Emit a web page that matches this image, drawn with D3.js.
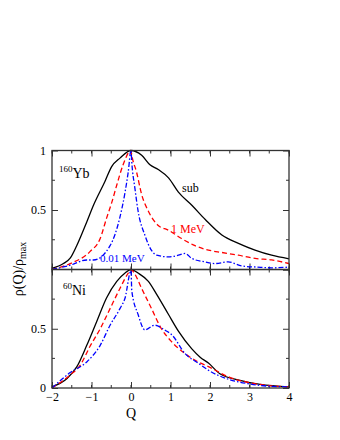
<!DOCTYPE html>
<html>
<head>
<meta charset="utf-8">
<script src="https://cdn.jsdelivr.net/npm/d3@7"></script>
<style>
  body { margin: 0; background: #fff; }
  svg text { font-family: "Liberation Serif", "DejaVu Serif", serif; }
</style>
</head>
<body>
<script>
// Q grid and curves
var ybSubQ = [-2, -1.71, -1.54, -1.375, -1.12, -0.95, -0.66, -0.49, -0.28, 0, 0.27, 0.48, 0.69, 0.95, 1.2, 1.54, 1.88, 2.3, 2.72, 3.14, 3.56, 4];
var ybSubV = [0.01, 0.05, 0.095, 0.2, 0.4, 0.54, 0.74, 0.865, 0.936, 1, 0.96, 0.88, 0.84, 0.77, 0.65, 0.54, 0.42, 0.29, 0.22, 0.163, 0.12, 0.09];

var yb1Q = [-2, -1.54, -1.04, -0.78, -0.62, -0.49, -0.36, -0.2, 0, 0.02, 0.14, 0.27, 0.44, 0.69, 0.95, 1.28, 1.62, 1.96, 2.3, 2.72, 3.14, 3.56, 4];
var yb1V = [0, 0.05, 0.15, 0.26, 0.43, 0.56, 0.71, 0.88, 1, 0.96, 0.82, 0.63, 0.49, 0.37, 0.33, 0.26, 0.2, 0.163, 0.143, 0.12, 0.093, 0.08, 0.05];

var yb001Q = [-2, -1.54, -1.12, -0.95, -0.53, -0.28, -0.15, -0.07, 0, 0.02, 0.1, 0.18, 0.35, 0.52, 0.65, 0.95, 1.2, 1.37, 1.54, 1.87, 2.13, 2.46, 2.8, 3.2, 3.56, 4];
var yb001V = [0, 0.036, 0.08, 0.08, 0.2, 0.44, 0.65, 0.82, 1, 0.9, 0.68, 0.49, 0.29, 0.16, 0.12, 0.106, 0.12, 0.135, 0.093, 0.064, 0.05, 0.064, 0.03, 0.02, 0.014, 0.02];

var niSubQ = [-2, -1.62, -1.37, -1.12, -0.87, -0.62, -0.36, -0.15, 0, 0.18, 0.44, 0.65, 0.95, 1.2, 1.54, 1.75, 1.96, 2.25, 2.76, 3.27, 4];
var niSubV = [0.01, 0.08, 0.18, 0.36, 0.56, 0.76, 0.9, 0.97, 1, 0.97, 0.9, 0.79, 0.62, 0.48, 0.33, 0.26, 0.21, 0.12, 0.065, 0.03, 0.01];

var ni1Q = [-2, -1.54, -1.29, -1.04, -0.78, -0.53, -0.28, -0.07, 0, 0.1, 0.27, 0.52, 0.77, 1.03, 1.37, 1.7, 1.96, 2.5, 3, 3.5, 4];
var ni1V = [0, 0.11, 0.19, 0.35, 0.5, 0.67, 0.84, 0.97, 1, 0.96, 0.84, 0.67, 0.5, 0.39, 0.29, 0.22, 0.18, 0.09, 0.045, 0.02, 0.01];

var ni001Q = [-2, -1.54, -1.12, -0.78, -0.53, -0.28, -0.15, 0, 0.02, 0.18, 0.35, 0.6, 0.85, 1.03, 1.37, 1.7, 1.96, 2.5, 3, 3.5, 4];
var ni001V = [0, 0.13, 0.22, 0.36, 0.53, 0.67, 0.76, 0.99, 0.82, 0.62, 0.49, 0.53, 0.49, 0.45, 0.29, 0.21, 0.15, 0.07, 0.035, 0.015, 0.01];

var xTicks = [-2, -1, 0, 1, 2, 3, 4];
var yTicksTop = [0.5, 1];
var yTicksBottom = [0, 0.5];

var width = 340, height = 440;
var left = 52, right = 289;
var top1 = 150.5, bot1 = 269.5, top2 = 269.5, bot2 = 388;

var svg = d3.select('body').append('svg')
  .attr('width', width)
  .attr('height', height);

var x = d3.scaleLinear().domain([-2, 4]).range([left, right]);
var y1 = d3.scaleLinear().domain([0, 1]).range([bot1, top1]);
var y2 = d3.scaleLinear().domain([0, 1]).range([bot2, top2]);

var styles = [
  { color: 'black', dash: null, w: 1.3 },
  { color: '#ff0000', dash: '5,3', w: 1.3 },
  { color: '#0000ff', dash: '5,2,1.5,2', w: 1.3 }
];

function drawPanel(y, series, yTicks) {
  var g = svg.append('g');
  var minorX = d3.range(-2, 4.01, 0.5);
  var minorY = [0.25, 0.75];

  // minor ticks
  var tk = g.append('g').attr('stroke', '#333').attr('stroke-width', 1);
  minorX.forEach(function(q) {
    tk.append('line').attr('x1', x(q)).attr('x2', x(q)).attr('y1', y(0)).attr('y2', y(0) - 3);
    tk.append('line').attr('x1', x(q)).attr('x2', x(q)).attr('y1', y(1)).attr('y2', y(1) + 3);
  });
  minorY.forEach(function(v) {
    tk.append('line').attr('x1', left).attr('x2', left + 3).attr('y1', y(v)).attr('y2', y(v));
    tk.append('line').attr('x1', right).attr('x2', right - 3).attr('y1', y(v)).attr('y2', y(v));
  });

  // major ticks via axes
  var axL = g.append('g').attr('transform', 'translate(' + left + ',0)')
    .call(d3.axisLeft(y).tickValues(yTicks).tickSize(-6).tickPadding(6).tickFormat(d3.format('')));
  var axR = g.append('g').attr('transform', 'translate(' + right + ',0)')
    .call(d3.axisRight(y).tickValues([0, 0.5, 1]).tickSize(-6).tickFormat(''));
  var axB = g.append('g').attr('transform', 'translate(0,' + y(0) + ')')
    .call(d3.axisBottom(x).tickValues(xTicks).tickSize(-6).tickFormat(''));
  var axT = g.append('g').attr('transform', 'translate(0,' + y(1) + ')')
    .call(d3.axisTop(x).tickValues(xTicks).tickSize(-6).tickFormat(''));
  [axL, axR, axB, axT].forEach(function(a) {
    a.select('.domain').remove();
    a.selectAll('line').attr('stroke', '#333');
    a.selectAll('text').attr('font-size', 12).attr('fill', '#000')
      .style('font-family', '"Liberation Serif", serif');
  });

  var line = d3.line().curve(d3.curveMonotoneX)
    .x(function(d) { return x(d[0]); }).y(function(d) { return y(d[1]); });
  series.forEach(function(s, i) {
    var pts = s[0].map(function(q, j) { return [q, s[1][j]]; });
    g.append('path').datum(pts)
      .attr('d', line)
      .attr('fill', 'none')
      .attr('stroke', styles[i].color)
      .attr('stroke-width', styles[i].w)
      .attr('stroke-dasharray', styles[i].dash);
  });

  g.append('rect').attr('x', left).attr('y', y(1))
    .attr('width', right - left).attr('height', y(0) - y(1))
    .attr('fill', 'none').attr('stroke', '#333').attr('stroke-width', 1.3);
  return g;
}

var gTop = drawPanel(y1, [[ybSubQ, ybSubV], [yb1Q, yb1V], [yb001Q, yb001V]], yTicksTop);
var gBot = drawPanel(y2, [[niSubQ, niSubV], [ni1Q, ni1V], [ni001Q, ni001V]], yTicksBottom);

// x tick labels
svg.append('g').attr('transform', 'translate(0,' + bot2 + ')')
  .call(d3.axisBottom(x).tickValues(xTicks).tickSize(0).tickPadding(4).tickFormat(d3.format('')))
  .call(function(a) {
    a.select('.domain').remove();
    a.selectAll('text').attr('font-size', 12).attr('fill', '#000')
      .style('font-family', '"Liberation Serif", serif');
  });

// nucleus labels
var yb = svg.append('text').attr('x', 59).attr('y', 177.5).attr('font-size', 14);
yb.append('tspan').attr('font-size', 9).attr('dy', -6).text('160');
yb.append('tspan').attr('dy', 6).text('Yb');
var ni = svg.append('text').attr('x', 63).attr('y', 294.5).attr('font-size', 14);
ni.append('tspan').attr('font-size', 9).attr('dy', -6).text('60');
ni.append('tspan').attr('dy', 6).text('Ni');

svg.append('text').attr('x', 182).attr('y', 191.5).attr('font-size', 12).text('sub');
svg.append('text').attr('x', 171).attr('y', 232.5).attr('font-size', 12).attr('fill', '#ff0000').text('1 MeV');
svg.append('text').attr('x', 100).attr('y', 261.5).attr('font-size', 11).attr('fill', '#0000ff').text('0.01 MeV');

// axis titles
svg.append('text').attr('x', x(0)).attr('y', 418).attr('font-size', 14)
  .attr('text-anchor', 'middle').text('Q');
var yl = svg.append('text').attr('transform', 'translate(23,' + 269 + ') rotate(-90)')
  .attr('text-anchor', 'middle').attr('font-size', 14);
yl.append('tspan').text('ρ(Q)/ρ');
yl.append('tspan').attr('font-size', 10).attr('dy', 3).text('max');
</script>
</body>
</html>
